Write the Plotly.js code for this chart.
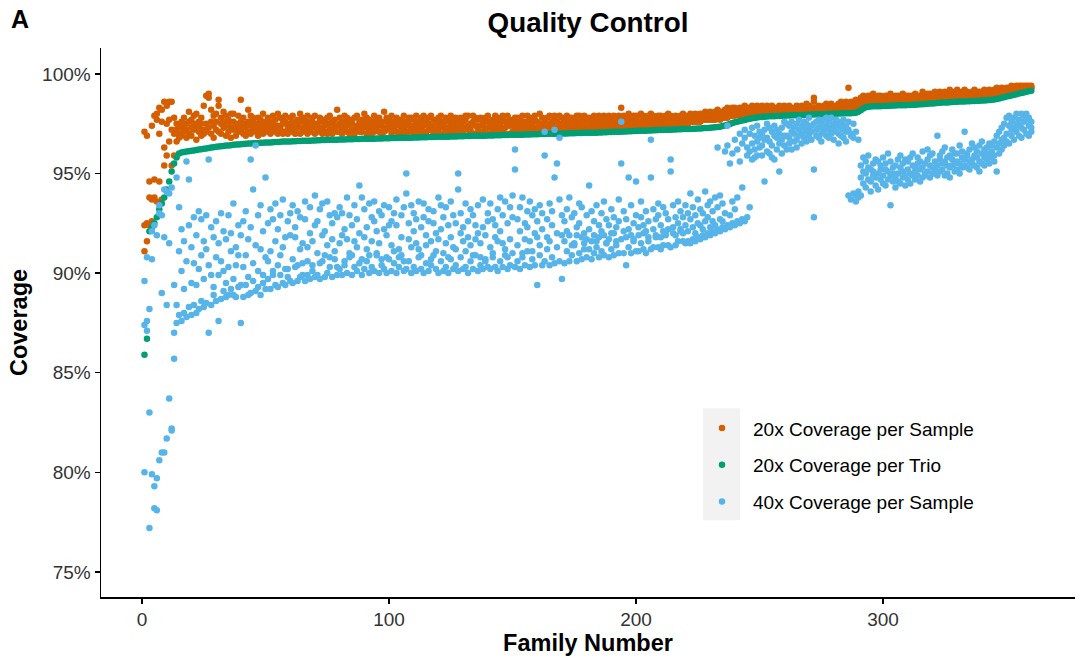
<!DOCTYPE html>
<html>
<head>
<meta charset="utf-8">
<script src="https://cdn.plot.ly/plotly-3.0.1.min.js"></script>
<style>html,body{margin:0;padding:0;background:#fff;}#chart{width:1080px;height:658px;}</style>
</head>
<body>
<div id="chart"></div>
<script>
// Trio coverage (20x per trio), one value per family 1..360
const trio20 = [
85.9,86.7,92.1,92.3,92.5,92.8,93.2,93.5,93.8,94.2,
94.6,95.1,95.5,95.8,96.0,96.05,96.08,96.1,96.12,96.14,
96.16,96.18,96.2,96.22,96.24,96.26,96.28,96.3,96.32,96.34,
96.35,96.37,96.38,96.4,96.41,96.42,96.44,96.45,96.46,96.47,
96.48,96.49,96.5,96.51,96.52,96.52,96.53,96.54,96.54,96.55,
96.56,96.56,96.57,96.58,96.58,96.59,96.6,96.6,96.61,96.61,
96.62,96.62,96.63,96.63,96.64,96.64,96.65,96.65,96.66,96.66,
96.67,96.67,96.68,96.68,96.69,96.69,96.7,96.7,96.7,96.71,
96.71,96.71,96.72,96.72,96.72,96.73,96.73,96.73,96.74,96.74,
96.74,96.75,96.75,96.75,96.76,96.76,96.76,96.77,96.77,96.77,
96.78,96.78,96.78,96.79,96.79,96.79,96.8,96.8,96.8,96.81,
96.81,96.81,96.82,96.82,96.82,96.83,96.83,96.83,96.84,96.84,
96.84,96.85,96.85,96.85,96.86,96.86,96.86,96.87,96.87,96.87,
96.88,96.88,96.88,96.89,96.89,96.89,96.9,96.9,96.9,96.91,
96.91,96.91,96.92,96.92,96.92,96.93,96.93,96.93,96.94,96.94,
96.94,96.95,96.95,96.95,96.96,96.96,96.96,96.97,96.97,96.97,
96.98,96.98,96.98,96.99,96.99,96.99,97.0,97.0,97.0,97.01,
97.01,97.01,97.02,97.02,97.02,97.03,97.03,97.03,97.04,97.04,
97.04,97.05,97.05,97.05,97.06,97.06,97.07,97.07,97.08,97.08,
97.09,97.09,97.1,97.1,97.11,97.11,97.12,97.12,97.13,97.13,
97.14,97.14,97.15,97.15,97.16,97.16,97.17,97.17,97.18,97.18,
97.19,97.19,97.2,97.2,97.21,97.21,97.22,97.22,97.23,97.23,
97.24,97.24,97.25,97.25,97.26,97.26,97.27,97.28,97.29,97.3,
97.31,97.32,97.33,97.35,97.38,97.41,97.45,97.49,97.53,97.57,
97.6,97.63,97.66,97.69,97.72,97.75,97.77,97.79,97.81,97.83,
97.84,97.85,97.86,97.87,97.88,97.88,97.89,97.89,97.9,97.9,
97.91,97.91,97.92,97.92,97.93,97.93,97.94,97.94,97.95,97.95,
97.96,97.96,97.97,97.97,97.98,97.98,97.99,97.99,98.0,98.0,
98.0,98.01,98.01,98.02,98.02,98.03,98.03,98.04,98.05,98.1,
98.18,98.26,98.32,98.35,98.36,98.37,98.37,98.38,98.38,98.39,
98.39,98.4,98.4,98.41,98.41,98.42,98.42,98.43,98.43,98.44,
98.44,98.45,98.45,98.46,98.47,98.48,98.49,98.5,98.51,98.52,
98.53,98.54,98.55,98.56,98.56,98.57,98.58,98.59,98.6,98.6,
98.61,98.62,98.62,98.63,98.63,98.64,98.64,98.65,98.65,98.66,
98.67,98.68,98.69,98.7,98.72,98.74,98.77,98.8,98.83,98.86,
98.89,98.92,98.95,98.98,99.01,99.04,99.07,99.1,99.13,99.16
];

// 20x coverage per sample: three samples per family, families 1..360 in order
const sample20 = [
91.1,92.4,97.1, 92.5,96.9,91.6, 93.8,94.6,92.4, 93.7,97.4,92.6, 94.7,93.8,97.9, 97.7,98.0,93.6, 97.0,94.6,98.3, 93.7,98.2,97.6, 98.6,96.3,95.4, 95.9,97.5,98.4,
96.6,97.7,98.6, 95.4,97.2,98.6, 95.9,97.0,97.8, 96.6,97.5,97.2, 97.4,97.0,96.8, 97.3,96.9,97.6, 97.1,97.8,97.4, 96.8,97.5,97.2, 97.6,97.0,98.1, 97.3,97.7,96.9,
97.9,97.2,97.5, 96.7,97.4,98.0, 97.1,97.6,97.3, 97.8,96.9,97.5, 97.2,98.4,97.0, 98.9,97.5,97.1, 99.0,98.8,97.3, 97.6,97.0,98.2, 97.4,97.9,96.8, 98.0,97.2,97.6,
98.7,98.4,97.1, 97.5,97.8,97.0, 97.3,98.1,97.6, 96.9,97.4,97.9, 97.7,97.1,97.5, 98.0,97.3,96.8, 97.2,97.6,98.0, 97.5,96.9,97.3, 97.9,97.4,97.1, 98.7,97.6,97.2,
97.0,97.8,97.4, 97.3,97.5,96.9, 98.2,97.1,97.6, 97.4,97.9,97.0, 97.6,97.2,97.8, 97.1,97.5,97.3, 97.8,96.9,97.5, 97.3,97.7,97.1, 97.5,97.0,98.0, 97.2,97.6,97.4,
97.3,97.8,97.1, 97.6,97.0,97.4, 97.9,97.2,97.5, 97.1,97.7,97.3, 97.4,97.0,98.0, 97.8,97.3,97.2, 97.0,97.5,97.7, 97.6,97.9,97.1, 97.2,97.4,97.0, 97.5,97.8,97.3,
97.1,97.6,97.9, 97.4,97.2,97.0, 97.7,97.3,97.5, 97.0,98.0,97.6, 97.3,97.1,97.8, 97.5,97.7,97.2, 97.9,97.0,97.4, 97.2,97.6,97.1, 97.6,97.3,97.8, 97.4,97.9,97.0,
97.1,97.5,97.3, 97.8,97.2,97.6, 97.3,97.0,97.7, 97.6,97.4,97.1, 97.0,97.8,97.5, 97.5,97.2,97.9, 97.2,97.6,97.0, 97.7,97.3,97.4, 97.4,98.2,97.1, 97.1,97.5,97.8,
97.6,97.0,97.3, 97.3,97.9,97.6, 97.8,97.4,97.1, 97.0,97.6,97.5, 97.5,97.2,97.7, 97.2,97.8,97.0, 97.9,97.3,97.4, 97.4,97.1,97.6, 97.1,97.7,97.3, 97.6,97.4,98.0,
97.3,97.0,97.8, 97.7,97.5,97.2, 97.0,97.3,97.6, 97.5,97.9,97.1, 97.2,97.4,97.7, 97.8,97.1,97.5, 97.4,97.6,97.0, 97.1,98.1,97.3, 97.6,97.2,97.8, 97.3,97.7,97.4,
97.9,97.0,97.5, 97.2,97.6,97.3, 97.5,97.8,97.1, 97.0,97.4,97.7, 97.7,97.2,97.5, 97.3,97.9,97.0, 97.6,97.1,97.4, 97.1,97.5,97.8, 97.8,97.3,97.2, 97.4,97.7,97.0,
97.2,97.5,97.9, 97.6,97.0,97.3, 97.3,97.8,97.6, 97.9,97.4,97.1, 97.0,97.6,97.5, 97.5,97.2,97.8, 97.2,97.9,97.4, 97.7,97.3,97.0, 97.4,97.1,97.6, 97.1,97.8,97.3,
97.6,97.4,97.9, 97.3,97.0,97.5, 97.8,97.6,97.2, 97.0,97.3,97.7, 97.5,97.9,97.1, 97.2,97.4,97.6, 97.7,97.1,97.8, 97.4,97.6,97.2, 97.1,97.8,97.5, 97.6,97.3,97.0,
97.3,97.7,97.9, 97.9,97.2,97.4, 97.2,97.5,97.1, 97.5,97.9,97.6, 97.0,97.4,97.8, 97.7,97.1,97.3, 97.4,97.8,97.0, 97.1,97.5,97.7, 97.8,97.3,97.2, 97.3,97.6,97.9,
97.6,97.0,97.4, 97.2,97.7,97.5, 97.9,97.3,97.1, 97.4,97.8,97.6, 97.1,97.5,97.3, 97.7,97.2,97.9, 97.3,97.6,97.0, 97.5,97.9,97.4, 97.0,97.4,97.7, 97.6,97.1,97.5,
97.3,97.8,97.2, 97.8,97.4,97.6, 97.1,97.7,97.3, 97.5,97.2,97.9, 97.2,97.6,97.4, 97.9,97.3,97.1, 97.4,97.8,97.6, 97.1,97.5,97.2, 97.7,97.3,97.9, 97.3,97.6,97.1,
98.0,97.2,97.5, 97.4,97.8,97.3, 97.2,97.5,97.7, 97.8,97.1,97.4, 97.5,97.9,97.2, 97.1,97.4,97.6, 97.7,97.3,97.9, 97.3,97.6,97.2, 97.9,97.2,97.5, 97.4,97.8,97.1,
97.2,97.5,97.7, 97.6,97.3,97.9, 97.3,97.8,97.4, 97.8,97.2,97.6, 97.5,97.7,97.3, 97.2,97.4,97.9, 97.9,97.6,97.3, 97.4,97.2,97.7, 97.6,97.9,97.3, 97.3,97.5,97.8,
97.8,97.2,97.6, 97.4,97.7,97.3, 97.2,97.5,97.9, 97.7,97.3,97.5, 97.5,97.9,97.2, 97.3,97.6,97.8, 97.9,97.4,97.3, 97.5,97.8,97.6, 97.3,97.5,97.9, 97.8,97.4,97.6,
97.6,97.3,97.9, 97.4,97.8,97.5, 97.9,97.6,97.3, 98.3,97.4,97.7, 97.5,97.9,97.4, 97.7,97.4,97.8, 97.4,97.6,98.0, 97.8,97.5,97.3, 97.6,97.9,97.4, 97.4,97.7,97.9,
97.9,97.5,97.6, 97.6,98.0,97.4, 97.4,97.7,97.9, 97.8,97.5,97.6, 97.5,97.9,97.4, 97.7,97.4,98.0, 97.9,97.6,97.5, 97.5,97.8,97.4, 97.7,97.5,97.9, 97.4,97.9,97.6,
97.8,97.5,97.7, 97.6,97.9,97.4, 97.5,97.7,98.0, 97.9,97.5,97.6, 97.6,97.8,97.4, 97.8,97.5,97.9, 97.5,97.7,97.6, 97.9,97.6,97.8, 97.6,98.0,97.5, 97.8,97.6,97.9,
97.5,97.8,97.7, 98.0,97.6,97.9, 97.7,97.9,97.6, 97.9,97.6,98.0, 97.6,97.8,97.7, 97.8,98.0,97.6, 97.7,97.9,97.8, 98.1,97.7,97.9, 97.8,98.0,97.7, 97.9,97.7,98.1,
97.7,98.0,97.9, 98.1,97.8,97.7, 97.9,98.2,97.8, 98.0,97.7,98.1, 97.8,98.1,98.0, 98.2,97.9,97.8, 98.0,97.8,98.3, 97.9,98.2,98.0, 98.1,97.9,98.3, 98.0,98.3,97.9,
98.2,98.0,98.1, 97.9,98.1,98.3, 98.3,98.0,98.1, 98.0,98.2,98.4, 98.1,98.3,98.0, 98.2,98.0,98.3, 98.1,98.4,98.0, 98.3,98.1,98.2, 98.0,98.2,98.4, 98.2,98.3,98.1,
98.4,98.1,98.0, 98.1,98.3,98.2, 98.3,98.0,98.4, 98.0,98.2,98.1, 98.2,98.4,98.3, 98.1,98.0,98.3, 98.3,98.2,98.1, 98.0,98.4,98.2, 98.2,98.1,98.3, 98.4,98.2,98.1,
98.1,98.3,98.0, 98.3,98.1,98.4, 98.2,98.0,98.3, 98.0,98.2,98.1, 98.3,98.4,98.2, 98.1,98.2,98.3, 98.4,98.1,98.2, 98.2,98.3,98.1, 98.1,98.5,98.2, 98.3,98.2,98.4,
98.2,98.1,98.3, 98.8,98.6,98.2, 98.3,98.2,98.1, 98.1,98.4,98.3, 98.2,98.3,98.1, 98.4,98.1,98.2, 98.2,98.3,98.5, 98.1,98.2,98.4, 98.3,98.5,98.2, 98.2,98.1,98.3,
98.4,98.2,98.3, 98.3,98.5,98.2, 98.2,98.4,98.6, 98.5,98.3,98.2, 98.3,98.6,98.4, 99.3,98.4,98.3, 98.4,98.3,98.6, 98.6,98.4,98.3, 98.3,98.5,98.7, 98.5,98.4,98.6,
98.6,98.5,98.8, 98.7,98.9,98.5, 98.6,98.8,98.7, 98.9,98.6,98.7, 98.7,98.9,98.6, 98.6,98.8,99.0, 98.8,98.6,98.7, 98.7,98.9,98.6, 98.9,98.7,98.8, 98.6,98.8,98.7,
98.8,98.6,98.9, 98.7,98.9,98.6, 99.0,98.7,98.8, 98.6,98.8,98.7, 98.8,98.7,98.9, 98.7,98.9,98.6, 98.9,98.6,98.8, 98.7,98.8,99.0, 98.6,98.9,98.7, 98.8,98.7,98.9,
98.7,98.9,98.8, 98.9,98.7,98.6, 98.8,99.0,98.7, 98.7,98.8,98.9, 98.9,98.7,98.8, 98.8,99.1,98.7, 98.7,98.9,98.8, 99.0,98.8,98.9, 98.8,98.7,99.0, 98.9,99.0,98.8,
98.8,98.9,99.1, 99.0,98.8,98.9, 98.9,99.1,98.8, 98.8,98.9,99.0, 99.1,98.8,98.9, 98.9,99.0,98.8, 98.8,99.2,98.9, 99.0,98.9,98.8, 98.9,98.8,99.1, 99.0,98.9,99.2,
98.9,99.0,98.8, 99.1,98.9,99.0, 98.9,99.2,98.9, 99.0,98.9,99.1, 98.9,99.0,98.9, 99.1,98.9,99.0, 99.0,99.2,98.9, 98.9,99.0,99.1, 99.1,98.9,99.0, 99.0,99.1,98.9,
98.9,99.0,99.2, 99.1,98.9,99.0, 99.0,99.2,98.9, 98.9,99.0,99.1, 99.2,99.0,98.9, 99.0,99.1,99.3, 99.1,99.0,99.2, 99.0,99.3,99.1, 99.2,99.1,99.0, 99.1,99.3,99.2,
99.3,99.1,99.2, 99.2,99.4,99.1, 99.1,99.3,99.2, 99.3,99.2,99.4, 99.2,99.4,99.3, 99.4,99.2,99.3, 99.3,99.4,99.2, 99.2,99.3,99.4, 99.4,99.3,99.2, 99.3,99.4,99.3
];

// 40x coverage per sample: three samples per family, families 1..360 in order
const sample40 = [
80.0,87.4,89.6, 87.1,87.6,90.8, 83.0,77.2,88.2, 79.9,92.1,90.7, 79.3,78.2,92.4, 79.7,78.1,91.9, 80.6,93.4,93.0, 81.0,92.9,89.0, 81.0,94.2,91.8, 81.7,88.4,94.1,
83.7,94.0,91.5, 82.1,82.2,94.3, 85.7,87.0,89.4, 88.4,87.5,94.8, 87.9,91.1,93.3, 87.6,90.1,92.2, 88.0,91.6,89.2, 87.8,90.6,95.6, 88.3,92.4,94.7, 87.9,89.5,91.3,
88.4,90.5,92.8, 88.0,91.9,89.4, 88.2,90.2,93.1, 88.6,92.7,90.9, 88.3,89.7,91.6, 88.5,91.2,92.9, 87.0,90.4,95.7, 88.4,92.3,89.9, 88.9,89.3,91.8, 88.6,90.8,92.6,
87.6,91.5,89.9, 88.7,93.0,90.6, 89.1,90.1,92.1, 88.8,91.7,89.5, 88.9,90.3,92.9, 89.2,92.0,91.1, 88.9,89.7,93.5, 88.8,91.3,90.4, 89.3,90.9,92.4, 87.5,89.4,91.9,
88.8,92.6,90.3, 89.4,90.9,93.1, 88.9,91.7,89.8, 89.0,92.3,95.7, 89.6,90.5,94.2, 89.1,91.4,96.4, 89.3,90.1,92.9, 88.9,93.4,91.2, 89.5,89.9,92.1, 89.2,90.8,94.8,
89.7,92.5,90.6, 89.2,91.1,93.2, 90.1,89.9,92.7, 89.4,93.5,91.6, 89.3,90.4,92.2, 89.9,92.9,90.9, 89.5,91.3,93.7, 89.4,90.2,91.8, 90.2,92.6,89.8, 89.6,91.9,93.0,
89.5,90.7,93.4, 90.3,91.8,92.3, 89.6,93.1,90.4, 89.8,91.2,92.8, 90.5,89.9,91.5, 89.6,92.7,93.6, 89.9,90.6,91.3, 89.7,93.3,92.0, 90.4,91.6,90.1, 89.8,92.4,93.9,
89.9,91.0,92.6, 89.7,93.2,90.5, 90.6,91.9,93.5, 89.8,92.1,90.9, 90.0,93.6,91.4, 90.3,90.8,92.9, 89.8,92.5,91.7, 90.7,91.1,93.0, 89.9,92.8,90.3, 90.2,91.5,93.3,
89.9,93.0,91.9, 90.4,90.6,92.2, 90.0,91.7,93.8, 90.8,92.9,91.0, 89.9,90.9,92.4, 90.3,93.4,91.6, 90.1,91.3,92.7, 90.5,94.4,92.0, 89.9,93.8,90.7, 90.2,91.8,93.2,
90.6,92.3,91.2, 90.0,93.5,90.9, 90.3,91.6,92.8, 90.1,92.6,93.6, 90.9,91.0,92.1, 90.0,93.1,91.5, 90.4,90.7,92.9, 90.2,92.2,93.4, 90.0,91.9,90.8, 90.7,93.3,92.4,
90.1,91.4,92.6, 90.5,93.0,91.1, 90.0,92.4,93.7, 90.3,91.2,90.8, 90.9,92.9,91.8, 90.1,90.6,93.3, 90.2,95.0,94.0, 90.6,91.7,92.5, 90.0,93.4,91.3, 90.3,92.1,93.0,
90.1,91.5,92.7, 90.8,93.6,91.2, 90.2,90.9,92.3, 90.0,92.8,93.5, 90.5,91.4,91.9, 90.1,93.2,92.6, 90.4,90.7,91.6, 90.9,92.5,93.1, 90.2,91.1,92.0, 90.0,93.8,91.7,
90.6,92.2,93.4, 90.1,91.0,92.8, 90.3,93.3,91.5, 90.0,92.4,90.8, 90.7,91.8,93.6, 90.2,92.9,91.3, 90.4,91.2,92.5, 90.1,95.0,94.2, 90.8,92.0,93.0, 90.2,91.6,92.3,
90.3,93.5,91.1, 90.0,92.6,91.8, 90.6,91.4,93.2, 90.2,92.9,90.9, 90.9,91.7,92.4, 90.1,93.4,92.0, 90.4,90.8,91.5, 90.2,92.3,93.7, 90.7,91.9,90.6, 90.3,93.0,92.6,
90.2,91.3,93.5, 90.8,92.7,91.0, 90.3,91.8,92.4, 90.1,93.2,91.6, 90.6,92.1,93.8, 90.3,91.5,92.9, 90.9,93.6,91.2, 90.2,92.5,90.8, 90.4,91.7,93.3, 91.0,92.8,93.9,
90.3,96.2,95.2, 90.6,92.7,91.4, 90.2,93.3,92.1, 90.8,91.0,93.8, 90.4,92.5,91.7, 91.1,93.1,92.3, 90.3,91.6,93.6, 90.7,92.9,91.1, 90.4,92.0,93.2, 89.4,91.8,92.6,
90.9,93.4,91.4, 90.4,92.2,93.0, 90.6,97.1,95.9, 91.2,91.8,92.7, 90.4,93.5,91.6, 90.8,92.4,93.1, 90.5,97.2,94.8, 91.3,95.5,92.0, 90.6,96.8,93.7, 89.7,91.9,92.9,
90.5,92.6,91.6, 91.1,93.2,92.1, 90.6,91.9,93.8, 90.9,92.8,91.4, 91.4,91.5,93.0, 90.6,92.3,91.9, 91.0,93.5,92.5, 90.7,91.8,93.3, 91.5,92.0,91.2, 90.8,92.9,91.7,
91.2,94.4,92.2, 90.7,91.6,93.1, 91.0,92.6,91.9, 91.6,91.3,93.4, 90.8,92.4,91.8, 91.1,93.0,92.1, 90.9,91.9,93.6, 91.5,92.7,91.5, 90.8,91.7,92.4, 91.2,93.2,92.0,
90.9,92.0,92.8, 91.4,92.3,91.6, 91.0,93.7,92.6, 91.7,97.6,95.5, 91.0,92.1,93.1, 90.4,91.8,92.7, 91.3,94.8,92.2, 91.0,91.9,93.4, 91.6,92.5,91.7, 91.1,94.6,92.9,
91.1,91.9,92.3, 91.5,92.8,93.6, 91.2,92.0,92.4, 91.0,93.1,92.1, 91.8,92.6,91.6, 91.2,96.7,94.8, 91.3,92.2,93.2, 91.9,91.8,92.7, 91.3,92.9,93.5, 91.2,92.4,91.8,
91.4,93.3,92.1, 91.9,92.0,93.0, 91.4,92.7,92.2, 91.3,95.7,95.1, 92.0,92.3,93.4, 91.4,91.9,92.8, 91.6,93.6,92.5, 92.1,92.2,93.1, 91.6,92.8,92.0, 91.5,93.4,92.4,
91.6,92.1,93.0, 91.5,92.7,94.0, 91.7,93.3,92.3, 91.6,92.0,92.9, 91.8,93.7,92.5, 91.7,92.4,93.2, 91.9,93.0,92.2, 91.8,92.6,94.1, 92.0,93.4,92.8, 91.9,92.3,93.6,
92.1,93.1,92.6, 92.0,93.8,92.4, 92.2,96.3,93.3, 92.1,92.7,93.9, 92.3,93.5,92.6, 92.2,96.1,93.0, 92.4,97.4,96.4, 92.3,92.9,95.5, 92.5,93.6,96.0, 92.4,93.2,96.7,
92.6,96.2,93.8, 92.5,97.0,95.6, 92.7,94.3,96.5, 92.6,96.8,97.2, 92.8,95.9,96.3, 93.3,97.0,96.1, 96.5,95.7,97.3, 96.9,96.2,95.8, 95.9,97.4,96.6, 96.3,96.8,97.1,
97.0,95.9,96.4, 94.6,96.7,97.2, 96.1,97.5,96.8, 96.6,96.0,97.3, 97.1,96.4,95.8, 95.7,96.9,97.4, 96.8,97.2,96.2, 95.1,96.5,97.0, 97.3,96.7,96.0, 96.4,97.6,96.9,
96.9,96.2,97.5, 97.4,96.8,96.5, 96.2,97.1,97.6, 97.0,96.6,97.3, 96.7,97.5,96.3, 97.2,96.9,97.7, 96.5,97.4,97.0, 97.6,96.8,97.3, 97.1,97.5,96.6, 96.9,97.3,97.8,
97.4,96.7,97.1, 95.2,92.8,97.5, 97.2,97.6,96.9, 96.8,97.3,97.7, 97.5,97.0,96.6, 97.1,97.7,97.3, 96.9,97.4,97.8, 97.6,97.2,96.8, 97.3,97.8,97.0, 96.7,97.5,97.2,
97.4,97.1,97.7, 97.0,97.6,96.5, 97.5,96.9,97.3, 97.2,97.7,96.8, 96.6,97.4,97.1, 93.9,97.2,97.6, 97.0,93.7,96.9, 94.0,97.5,96.8, 93.6,93.9,97.1, 96.7,94.1,93.8,
94.8,95.4,93.9, 95.1,94.5,95.8, 94.3,95.6,95.0, 95.3,94.7,95.9, 94.6,95.2,94.1, 95.5,94.9,95.1, 94.4,95.7,94.8, 95.0,94.2,95.6, 95.4,94.7,95.2, 94.9,95.8,94.5,
95.2,94.4,95.5, 94.7,95.1,96.0, 93.4,95.6,94.9, 95.3,94.6,95.0, 94.8,95.4,94.3, 95.7,95.0,94.6, 94.5,95.3,95.9, 95.1,94.8,95.5, 94.9,95.7,94.4, 95.6,95.2,94.7,
95.0,94.5,95.8, 95.4,96.0,94.9, 94.7,95.3,95.1, 95.8,94.9,95.5, 95.2,95.6,94.6, 94.8,96.1,95.3, 95.5,95.0,94.9, 95.1,95.7,96.2, 95.9,94.8,95.4, 95.3,96.0,95.0,
95.0,95.6,95.2, 96.9,95.4,94.9, 95.7,95.1,95.9, 95.2,96.1,95.5, 95.6,94.9,96.3, 95.0,95.8,95.4, 95.9,95.3,94.8, 95.4,96.2,95.7, 95.1,95.5,96.0, 96.0,95.2,95.6,
95.5,96.4,95.0, 95.8,95.3,96.1, 97.1,95.7,95.4, 95.3,96.0,95.9, 96.2,95.6,95.2, 95.7,96.5,95.5, 95.4,95.9,96.3, 96.1,95.3,95.8, 95.6,96.4,95.1, 96.0,95.5,96.6,
95.8,96.2,95.4, 96.3,95.7,96.0, 95.5,96.5,95.9, 96.1,95.8,96.4, 95.9,96.6,95.6, 95.1,96.3,96.9, 96.5,96.0,97.1, 96.2,97.3,96.7, 96.8,96.4,97.5, 97.0,96.6,97.8,
96.5,97.4,97.9, 97.2,96.9,97.6, 96.7,97.8,97.3, 97.5,97.1,98.0, 96.9,97.7,97.4, 97.3,98.0,96.8, 97.6,97.2,97.9, 97.0,97.7,98.0, 97.4,96.9,97.8, 97.1,97.6,97.3
];

const seriesNames = ['20x Coverage per Sample', '20x Coverage per Trio', '40x Coverage per Sample'];
const seriesColors = ['#D55E00', '#009E73', '#56B4E9'];
const xTicks = [0, 100, 200, 300];
const yTicks = [75, 80, 85, 90, 95, 100];

const famTrio = trio20.map((v, i) => i + 1);
const famSample = sample20.map((v, i) => Math.floor(i / 3) + 1);
const famSample40 = sample40.map((v, i) => Math.floor(i / 3) + 1);

const font = '"Liberation Sans", Arial, Helvetica, sans-serif';

function trace(x, y, k) {
  return {
    type: 'scatter', mode: 'markers', x: x, y: y, name: seriesNames[k],
    legendgroup: 'g' + k,
    marker: {color: seriesColors[k], size: 6.5, line: {width: 0}},
    hoverinfo: 'x+y'
  };
}

const data = [
  trace(famSample, sample20, 0),
  trace(famTrio, trio20, 1),
  trace(famSample40, sample40, 2)
];

const layout = {
  width: 1080, height: 658,
  margin: {l: 101, r: 5, t: 48, b: 61, pad: 0},
  paper_bgcolor: '#ffffff', plot_bgcolor: '#ffffff',
  font: {family: font, color: '#000000'},
  title: {text: '<b>Quality Control</b>', x: 0.5, xref: 'paper', xanchor: 'center', y: 1 - 22/658, yref: 'container', yanchor: 'middle', font: {size: 27.8, color: '#000'}},
  xaxis: {
    range: [-16.6, 377.7], tickvals: xTicks, ticktext: xTicks.map(String),
    showline: true, linecolor: '#000', linewidth: 1.5, showgrid: false, zeroline: false,
    ticks: 'outside', ticklen: 5, tickwidth: 1.5, tickcolor: '#000',
    tickfont: {size: 19, color: '#333333'},
    title: {text: '<b>Family Number</b>', font: {size: 23.5, color: '#000'}, standoff: 2}
  },
  yaxis: {
    range: [73.74, 101.3], tickvals: yTicks, ticktext: yTicks.map(v => v + '%'),
    showline: true, linecolor: '#000', linewidth: 1.5, showgrid: false, zeroline: false,
    ticks: 'outside', ticklen: 5, tickwidth: 1.5, tickcolor: '#000',
    tickfont: {size: 19, color: '#333333'},
    title: {text: '<b>Coverage</b>', font: {size: 23.5, color: '#000'}, standoff: 8}
  },
  showlegend: true,
  legend: {
    x: (691 - 101) / 974, xanchor: 'left', y: 0.342, yanchor: 'top',
    bgcolor: 'rgba(0,0,0,0)', borderwidth: 0,
    font: {size: 19, color: '#000'},
    traceorder: 'grouped', tracegroupgap: 9, itemsizing: 'trace', itemwidth: 52
  },
  shapes: [{type: 'rect', xref: 'paper', yref: 'paper', x0: 0.618, x1: 0.656, y0: 0.140, y1: 0.344, fillcolor: '#F2F2F2', line: {width: 0}, layer: 'below'}],
  annotations: [{text: '<b>A</b>', xref: 'paper', yref: 'paper', x: (9 - 101)/974, y: (597 - 19)/549, xanchor: 'left', yanchor: 'middle', showarrow: false, font: {size: 25, color: '#000'}}]
};

Plotly.newPlot('chart', data, layout, {displayModeBar: false, staticPlot: true});
</script>
</body>
</html>
